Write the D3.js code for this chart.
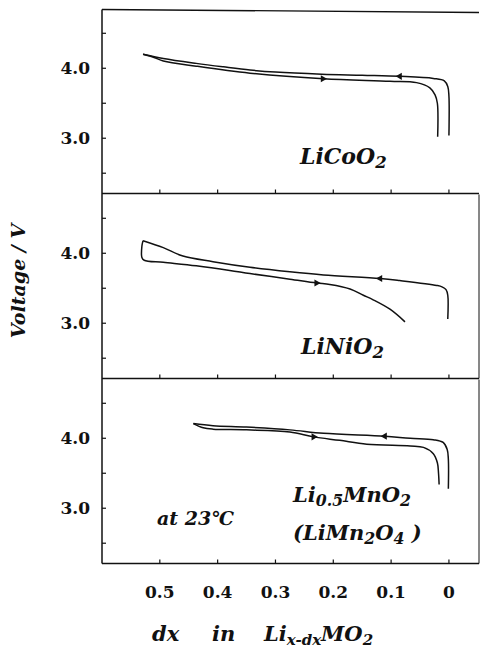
<!DOCTYPE html>
<html>
<head>
<meta charset="utf-8">
<script src="https://cdn.jsdelivr.net/npm/d3@7"></script>
<style>
  body { margin: 0; background: #fff; }
  text { font-family: "DejaVu Serif", serif; fill: #111; }
</style>
</head>
<body>
<div id="chart"></div>
<script>
"use strict";

// x axis: dx in Li(x-dx)MO2, drawn reversed (0.5 at left, 0 at right)
const dxTicks = [0.5, 0.4, 0.3, 0.2, 0.1, 0];
const dxTickLabels = ["0.5", "0.4", "0.3", "0.2", "0.1", "0"];
const vTicks = [2.5, 3.0, 3.5, 4.0, 4.5];
const vTickLabels = [3.0, 4.0];

// LiCoO2 (top)
const coCharge = [[0, 3.04], [0, 3.6], [0.002, 3.74], [0.008, 3.82], [0.027, 3.855], [0.085, 3.885],
  [0.15, 3.9], [0.22, 3.915], [0.3, 3.945], [0.344, 3.975], [0.39, 4.02], [0.437, 4.07], [0.494, 4.14], [0.529, 4.2]];
const coDischarge = [[0.529, 4.2], [0.51, 4.155], [0.494, 4.105], [0.437, 4.03], [0.344, 3.93], [0.217, 3.85],
  [0.102, 3.815], [0.056, 3.795], [0.033, 3.72], [0.024, 3.62], [0.02, 3.5], [0.0195, 3.02]];
const coArrows = [[0.085, 3.885, "left"], [0.218, 3.85, "right"]];

// LiNiO2 (middle)
const niCharge = [[0.002, 3.06], [0.002, 3.4], [0.005, 3.48], [0.012, 3.52], [0.021, 3.54], [0.085, 3.61],
  [0.119, 3.64], [0.217, 3.69], [0.275, 3.735], [0.344, 3.8], [0.408, 3.88], [0.46, 3.96], [0.494, 4.08], [0.529, 4.18]];
const niDischarge = [[0.529, 4.18], [0.531, 4.1], [0.531, 3.94], [0.527, 3.9], [0.494, 3.87], [0.437, 3.82],
  [0.379, 3.755], [0.344, 3.71], [0.275, 3.63], [0.229, 3.575], [0.206, 3.555], [0.171, 3.49], [0.148, 3.4],
  [0.131, 3.335], [0.102, 3.2], [0.076, 3.02]];
const niArrows = [[0.119, 3.64, "left"], [0.229, 3.575, "right"]];

// Li0.5MnO2 (bottom)
const mnCharge = [[0.001, 3.28], [0.001, 3.7], [0.003, 3.84], [0.01, 3.94], [0.027, 3.98], [0.067, 4.0],
  [0.111, 4.03], [0.217, 4.07], [0.275, 4.12], [0.35, 4.16], [0.408, 4.18], [0.442, 4.21]];
const mnDischarge = [[0.442, 4.21], [0.425, 4.15], [0.408, 4.13], [0.35, 4.12], [0.275, 4.09], [0.234, 4.02],
  [0.189, 3.97], [0.142, 3.915], [0.067, 3.89], [0.044, 3.87], [0.027, 3.78], [0.02, 3.65], [0.018, 3.5], [0.017, 3.34]];
const mnArrows = [[0.111, 4.03, "left"], [0.234, 4.02, "right"]];

const width = 480, height = 650;
const left = 102, right = 479;
const panelH = 184;
const panelTops = [9.5, 194.5, 379.5];

const svg = d3.select("#chart").append("svg").attr("width", width).attr("height", height);

const x = d3.scaleLinear().domain([0.6, -0.052]).range([left, right]);

const panels = [
  {charge: coCharge, discharge: coDischarge, arrows: coArrows},
  {charge: niCharge, discharge: niDischarge, arrows: niArrows},
  {charge: mnCharge, discharge: mnDischarge, arrows: mnArrows}
];

panels.forEach(function(p, i) {
  const top = panelTops[i];
  const y = d3.scaleLinear().domain([2.21, 4.84]).range([top + panelH, top]);
  const g = svg.append("g");

  // frame: bottom line always, top only for first panel, right edge for lower two
  g.append("line").attr("x1", left).attr("x2", right).attr("y1", top + panelH).attr("y2", top + panelH)
    .attr("stroke", "#111").attr("stroke-width", 1.3);
  if (i == 0) {
    g.append("line").attr("x1", left).attr("x2", right).attr("y1", top).attr("y2", top + 3)
      .attr("stroke", "#111").attr("stroke-width", 1.3);
  } else {
    g.append("line").attr("x1", right).attr("x2", right).attr("y1", top).attr("y2", top + panelH)
      .attr("stroke", "#111").attr("stroke-width", 1);
  }

  // ticks pointing inward
  g.selectAll(".xt").data(dxTicks).enter().append("line")
    .attr("x1", d => x(d)).attr("x2", d => x(d))
    .attr("y1", top + panelH).attr("y2", top + panelH - 4)
    .attr("stroke", "#111").attr("stroke-width", 1.2);
  g.selectAll(".yt").data(vTicks).enter().append("line")
    .attr("x1", left).attr("x2", left + 4)
    .attr("y1", d => y(d)).attr("y2", d => y(d))
    .attr("stroke", "#111").attr("stroke-width", 1.2);

  g.selectAll(".yl").data(vTickLabels).enter().append("text")
    .attr("x", 90).attr("y", d => y(d) + 6)
    .attr("text-anchor", "end").attr("font-size", 17).attr("font-weight", "bold")
    .text(d => d.toFixed(1));

  const line = d3.line().x(d => x(d[0])).y(d => y(d[1])).curve(d3.curveCatmullRom.alpha(0.5));
  [p.charge, p.discharge].forEach(function(s) {
    g.append("path").attr("d", line(s)).attr("fill", "none")
      .attr("stroke", "#111").attr("stroke-width", 1.5).attr("stroke-linejoin", "round");
  });

  g.selectAll(".arr").data(p.arrows).enter().append("path")
    .attr("d", d3.symbol(d3.symbolTriangle).size(22))
    .attr("transform", d => "translate(" + x(d[0]) + "," + y(d[1]) + ") rotate(" + (d[2] == "left" ? -90 : 90) + ")")
    .attr("fill", "#111");
});

// left axis spans all panels
svg.append("line").attr("x1", left).attr("x2", left).attr("y1", panelTops[0]).attr("y2", panelTops[2] + panelH)
  .attr("stroke", "#111").attr("stroke-width", 1.5);

// x tick labels
svg.selectAll(".xl").data(dxTicks).enter().append("text")
  .attr("x", d => x(d)).attr("y", 598)
  .attr("text-anchor", "middle").attr("font-size", 17).attr("font-weight", "bold")
  .text((d, i) => dxTickLabels[i]);

// axis titles
svg.append("text").attr("transform", "translate(25,281) rotate(-90)")
  .attr("text-anchor", "middle").attr("font-size", 19).attr("font-weight", "bold").attr("font-style", "italic")
  .text("Voltage / V");

const xt = svg.append("g").attr("font-size", 21).attr("font-weight", "bold").attr("font-style", "italic");
xt.append("text").attr("x", 152).attr("y", 641).text("dx");
xt.append("text").attr("x", 212).attr("y", 641).text("in");
const xt3 = xt.append("text").attr("x", 264).attr("y", 641);
xt3.append("tspan").text("Li");
xt3.append("tspan").attr("dy", 4).attr("font-size", 15).text("x-dx");
xt3.append("tspan").attr("dy", -4).text("MO");
xt3.append("tspan").attr("dy", 4).attr("font-size", 15).text("2");

// panel labels
function label(px, py, parts, size) {
  const t = svg.append("text").attr("x", px).attr("y", py)
    .attr("font-size", size).attr("font-weight", "bold").attr("font-style", "italic");
  let shift = 0;
  parts.forEach(function(pt) {
    const s = pt[1] ? 4 : 0;
    t.append("tspan").attr("dy", s - shift).attr("font-size", pt[1] ? size * 0.75 : size).text(pt[0]);
    shift = s;
  });
}
label(300, 164, [["LiCoO", 0], ["2", 1]], 22);
label(301, 354, [["LiNiO", 0], ["2", 1]], 22);
label(293, 502, [["Li", 0], ["0.5", 1], ["MnO", 0], ["2", 1]], 21);
label(293, 540, [["(LiMn", 0], ["2", 1], ["O", 0], ["4", 1], [" )", 0]], 21);
label(157, 525, [["at 23\u2103", 0]], 19);
</script>
</body>
</html>
